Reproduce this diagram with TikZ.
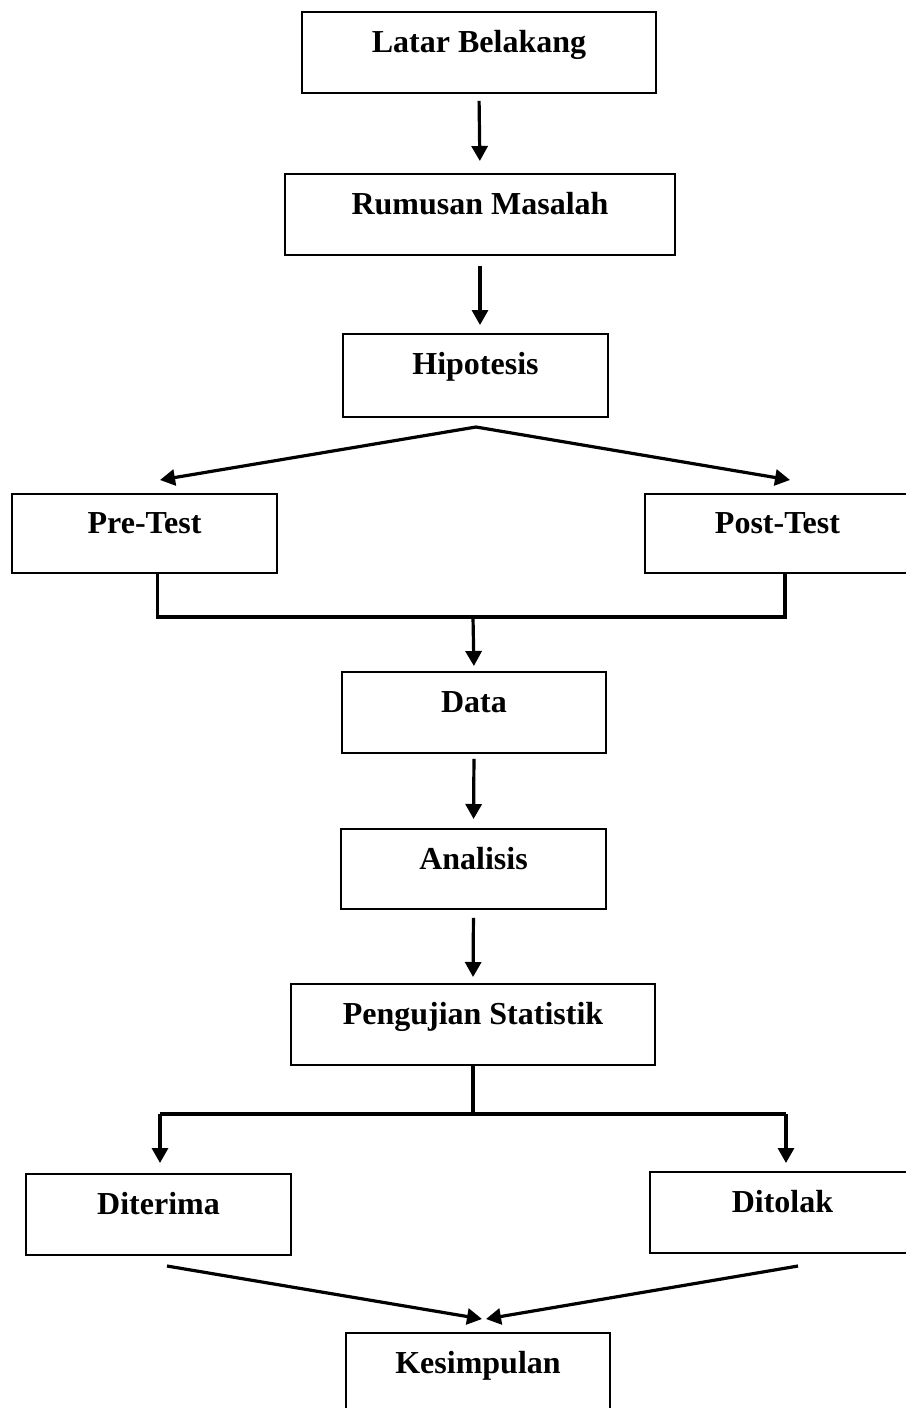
\documentclass[tikz,border=0pt]{standalone}
\usepackage{fontspec}
\setmainfont{Liberation Serif}
\usetikzlibrary{arrows.meta,calc}
\tikzset{
  box/.style={draw, line width=1.9pt, rectangle, inner sep=0pt, anchor=north,
    text height=41pt, text depth=40pt,
    font=\fontsize{32}{38}\selectfont\bfseries},
  conn/.style={line width=3.2pt},
  arr/.style={conn, -{Triangle[length=15pt,width=16pt]}}
}
\begin{document}
\begin{tikzpicture}[x=1pt,y=-1pt]
\useasboundingbox (0,0) rectangle (905,1408);
% boxes
\node[box, minimum width=354pt] (lat) at (479,11) {Latar Belakang};
\node[box, minimum width=390pt] (rum) at (480,173) {Rumusan Masalah};
\node[box, minimum width=265pt, text depth=42pt] (hip) at (475.5,333) {Hipotesis};
\node[box, minimum width=265pt, text depth=39pt, text height=40pt] (pre) at (144.5,493) {Pre-Test};
\node[box, minimum width=265pt, text depth=39pt, text height=40pt] (post) at (777.5,493) {Post-Test};
\node[box, minimum width=264pt] (data) at (474,671) {Data};
\node[box, minimum width=265pt, text depth=39pt] (ana) at (473.5,828) {Analisis};
\node[box, minimum width=364pt] (peng) at (473,983) {Pengujian Statistik};
\node[box, minimum width=265pt] (dit) at (158.5,1173) {Diterima};
\node[box, minimum width=265pt] (tol) at (782.5,1171) {Ditolak};
\node[box, minimum width=264pt] (kes) at (478,1332) {Kesimpulan};
% helper coordinates
\coordinate (apex) at (476,427);
\coordinate (tipL) at (160,480);
\coordinate (tipR) at (790,480);
\coordinate (preB) at (157.5,573);
\coordinate (postB) at (785,573);
\coordinate (mergeL) at (157.5,617);
\coordinate (mergeR) at (785,617);
\coordinate (mergeC) at (473,617);
\coordinate (splitC) at (473,1114);
\coordinate (splitL) at (160,1114);
\coordinate (splitR) at (786,1114);
\coordinate (ditT) at (160,1163);
\coordinate (tolT) at (786,1163);
\coordinate (convL) at (167,1266);
\coordinate (convR) at (798,1266);
\coordinate (convTL) at (482,1319);
\coordinate (convTR) at (486,1319);
% connectors
\draw[arr, shorten <=7pt, shorten >=12pt] (lat.south) -- (rum.north);
\draw[arr, shorten <=10pt, shorten >=8pt] (rum.south) -- (rum.south |- hip.north);
\draw[arr] (apex) -- (tipL);
\draw[arr] (apex) -- (tipR);
\draw[conn] (preB) -- (mergeL) -- (mergeR) -- (postB);
\draw[arr, shorten >=5pt] (mergeC) -- (data.north);
\draw[arr, shorten <=5pt, shorten >=9pt] (data.south) -- (ana.north);
\draw[arr, shorten <=8pt, shorten >=6pt] (ana.south) -- (peng.north);
\draw[conn] (peng.south) -- (splitC);
\draw[conn] (splitL) -- (splitR);
\draw[arr] (splitL) -- (ditT);
\draw[arr] (splitR) -- (tolT);
\draw[arr] (convL) -- (convTL);
\draw[arr] (convR) -- (convTR);
\end{tikzpicture}
\end{document}
